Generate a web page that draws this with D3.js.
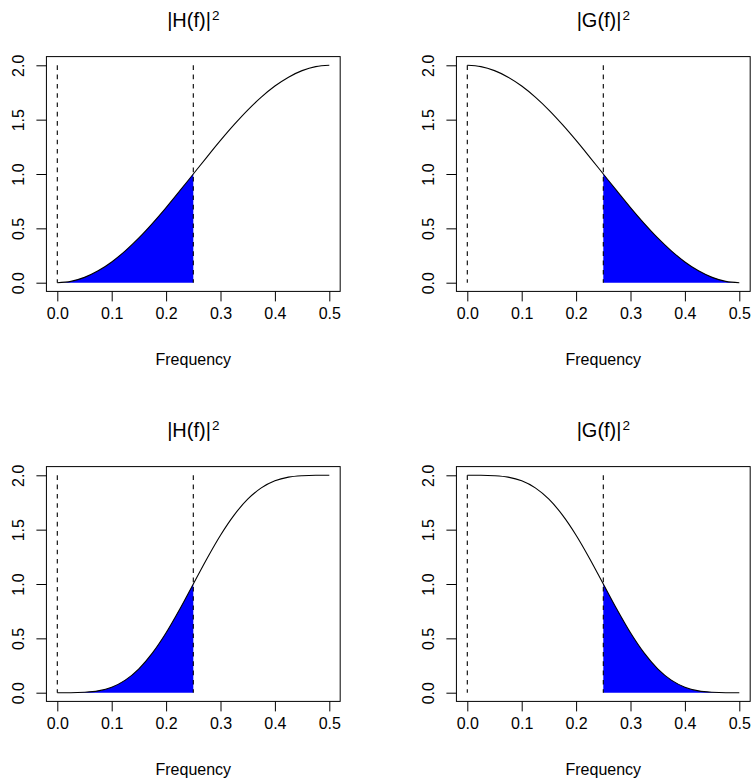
<!DOCTYPE html>
<html>
<head>
<meta charset="utf-8">
<script src="https://cdn.jsdelivr.net/npm/d3@7"></script>
<style>
  body { margin: 0; background: #fff; }
  text { font-family: "Liberation Sans", Arial, Helvetica, sans-serif; fill: #000; }
</style>
</head>
<body>
<svg id="chart" width="752" height="781"></svg>
<script>
// frequency grid
var freq = [0, 0.025, 0.05, 0.075, 0.1, 0.125, 0.15, 0.175, 0.2, 0.225, 0.25,
            0.275, 0.3, 0.325, 0.35, 0.375, 0.4, 0.425, 0.45, 0.475, 0.5];

// top row
var haarH = [0, 0.012, 0.049, 0.109, 0.191, 0.293, 0.412, 0.546, 0.691, 0.844, 1.000,
             1.156, 1.309, 1.454, 1.588, 1.707, 1.809, 1.891, 1.951, 1.988, 2.000];
var haarG = [2.000, 1.988, 1.951, 1.891, 1.809, 1.707, 1.588, 1.454, 1.309, 1.156, 1.000,
             0.844, 0.691, 0.546, 0.412, 0.293, 0.191, 0.109, 0.049, 0.012, 0];

// bottom row
var d4H = [0, 0.000, 0.004, 0.017, 0.051, 0.116, 0.220, 0.366, 0.551, 0.767, 1.000,
           1.233, 1.449, 1.634, 1.780, 1.884, 1.949, 1.983, 1.996, 2.000, 2.000];
var d4G = [2.000, 2.000, 1.996, 1.983, 1.949, 1.884, 1.780, 1.634, 1.449, 1.233, 1.000,
           0.767, 0.551, 0.366, 0.220, 0.116, 0.051, 0.017, 0.004, 0.000, 0];

var xTicks = [0, 0.1, 0.2, 0.3, 0.4, 0.5];
var yTicks = [0, 0.5, 1.0, 1.5, 2.0];
var cutoffs = [0, 0.25];
var xLabel = "Frequency";

var panels = [
    {name: "H", values: haarH, shade: [0, 0.25],   col: 0, row: 0},
    {name: "G", values: haarG, shade: [0.25, 0.5], col: 1, row: 0},
    {name: "H", values: d4H,   shade: [0, 0.25],   col: 0, row: 1},
    {name: "G", values: d4G,   shade: [0.25, 0.5], col: 1, row: 1}
];

var svg = d3.select("#chart");

var x = d3.scaleLinear().domain([0, 0.5]).range([57.3, 329.3]);
var y = d3.scaleLinear().domain([0, 2]).range([282.7, 65.3]);
var fmt = d3.format(".1f");

panels.forEach(function(p, i){
    var g = svg.append("g")
        .attr("transform", "translate(" + (p.col * 410) + "," + (p.row * 410) + ")");

    var pts = freq.map(function(f, j){ return {f: f, v: p.values[j]}; });

    // shaded band, clipped to its frequency range
    var clipId = "clip" + i;
    g.append("clipPath").attr("id", clipId)
        .append("rect")
        .attr("x", x(p.shade[0]))
        .attr("y", 0)
        .attr("width", x(p.shade[1]) - x(p.shade[0]))
        .attr("height", 400);

    var area = d3.area()
        .x(function(d){ return x(d.f); })
        .y0(y(0))
        .y1(function(d){ return y(d.v); })
        .curve(d3.curveMonotoneX);

    g.append("path")
        .datum(pts)
        .attr("clip-path", "url(#" + clipId + ")")
        .attr("fill", "#0000ff")
        .attr("d", area);

    // dashed markers
    g.selectAll(".cut")
        .data(cutoffs)
        .enter().append("line")
        .attr("x1", function(d){ return x(d); })
        .attr("x2", function(d){ return x(d); })
        .attr("y1", y(2))
        .attr("y2", y(0))
        .attr("stroke", "#000")
        .attr("stroke-width", 1.1)
        .attr("stroke-dasharray", "4.6,4.7");

    var line = d3.line()
        .x(function(d){ return x(d.f); })
        .y(function(d){ return y(d.v); })
        .curve(d3.curveMonotoneX);

    g.append("path")
        .datum(pts)
        .attr("fill", "none")
        .attr("stroke", "#000")
        .attr("stroke-width", 1.1)
        .attr("d", line);

    // box
    g.append("rect")
        .attr("x", x(-0.02))
        .attr("y", y(2.08))
        .attr("width", x(0.52) - x(-0.02))
        .attr("height", y(-0.08) - y(2.08))
        .attr("fill", "none")
        .attr("stroke", "#000")
        .attr("stroke-width", 1);

    // x axis
    var xa = g.append("g")
        .attr("transform", "translate(0," + y(-0.08) + ")")
        .call(d3.axisBottom(x).tickValues(xTicks).tickFormat(fmt)
              .tickSize(10).tickPadding(6).tickSizeOuter(0));
    xa.select(".domain").remove();
    xa.selectAll("line").attr("stroke", "#000");
    xa.selectAll("text")
        .style("font-size", "16px")
        .style("font-family", "'Liberation Sans', Arial, sans-serif")
        .attr("fill", "#000");

    // y axis
    var ya = g.append("g")
        .attr("transform", "translate(" + x(-0.02) + ",0)")
        .call(d3.axisLeft(y).tickValues(yTicks).tickFormat(fmt)
              .tickSize(10).tickSizeOuter(0));
    ya.select(".domain").remove();
    ya.selectAll("line").attr("stroke", "#000");
    ya.selectAll("text")
        .attr("x", null).attr("dy", null)
        .attr("transform", "translate(-22.2,0) rotate(-90)")
        .attr("text-anchor", "middle")
        .style("font-size", "16px")
        .style("font-family", "'Liberation Sans', Arial, sans-serif")
        .attr("fill", "#000");

    // title |X(f)|^2
    var cx = (x(-0.02) + x(0.52)) / 2;
    var t = g.append("text")
        .attr("x", cx)
        .attr("y", 27)
        .attr("text-anchor", "middle")
        .style("font-size", "20px");
    t.append("tspan").text("|" + p.name + "(f)|");
    t.append("tspan").attr("dx", 1).attr("dy", -7).style("font-size", "13.5px").text("2");

    g.append("text")
        .attr("x", cx)
        .attr("y", 365)
        .attr("text-anchor", "middle")
        .style("font-size", "16px")
        .text(xLabel);
});
</script>
</body>
</html>
